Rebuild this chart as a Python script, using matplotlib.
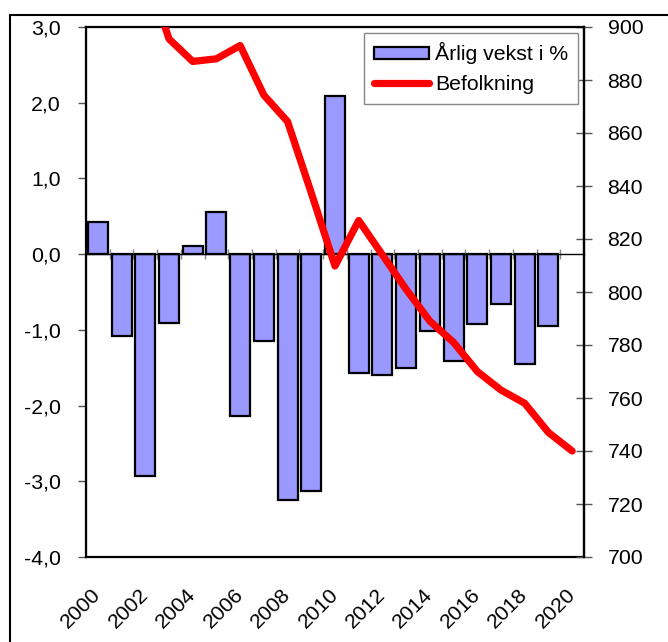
import matplotlib
matplotlib.use("Agg")
import matplotlib.pyplot as plt
from matplotlib.patches import Rectangle, Patch
from matplotlib.lines import Line2D
from matplotlib.ticker import FuncFormatter
import numpy as np

plt.rcParams["font.family"] = ["Liberation Sans", "DejaVu Sans"]

# ── data ─────────────────────────────────────────────────────────────────────
years = list(range(2000, 2021))
growth_years = list(range(2000, 2020))
growth_pct = [0.43, -1.08, -2.93, -0.91, 0.11, 0.56, -2.14, -1.15, -3.25, -3.13,
              2.09, -1.57, -1.60, -1.50, -1.02, -1.41, -0.92, -0.66, -1.45, -0.95]
population = [928.6, 932.6, 922.5, 895.5, 887.0, 888.0, 893.0, 874.3, 864.3, 837.4,
              809.8, 827.0, 814.0, 801.0, 789.0, 781.0, 770.0, 763.0, 758.0, 747.0, 740.0]
label_years = [str(y) for y in years[::2]]

bar_color = "#9999FF"
line_color = "#FF0000"
fs = 15.3

# ── figure ───────────────────────────────────────────────────────────────────
fig = plt.figure(figsize=(6.68, 6.42), dpi=100)
fig.patches.append(Rectangle((10 / 668, -0.1), 1.2, 0.1 + (1 - 15 / 642),
                             transform=fig.transFigure, fill=False,
                             edgecolor="black", lw=1.5, zorder=0))

ax = fig.add_axes([86 / 668, 1 - 557 / 642, 498 / 668, 530 / 642])
x_bar = np.arange(len(growth_years))
x_line = np.arange(len(years))

ax.bar(x_bar, growth_pct, width=0.84, color=bar_color, edgecolor="black",
       linewidth=1.6, zorder=2)
ax.set_xlim(-0.5, len(years) - 0.5)
ax.set_ylim(-4, 3)
ax.set_yticks(np.arange(-4, 3.1, 1))
ax.yaxis.set_major_formatter(FuncFormatter(lambda v, _: f"{v:.1f}".replace(".", ",")))
ax.tick_params(axis="y", direction="out", length=6, width=1, color="#555555",
               labelsize=fs, pad=12)

# zero line carries the category boundary ticks
ax.spines["bottom"].set_position(("data", 0))
ax.spines["bottom"].set_linewidth(1.0)
ax.set_xticks([])
ax.set_xticks(np.arange(0.5, len(years) - 1, 1), minor=True)
ax.tick_params(axis="x", which="minor", direction="inout", length=7, width=1,
               color="#888888")
for s in ["left", "top", "right"]:
    ax.spines[s].set_linewidth(1.6)

# frame bottom with year labels
sec = ax.secondary_xaxis("bottom")
sec.spines["bottom"].set_linewidth(1.6)
sec.set_xticks(x_line[::2])
sec.set_xticklabels(label_years, rotation=45, ha="right", va="center",
                    rotation_mode="anchor", fontsize=fs)
sec.tick_params(axis="x", length=0, pad=25)

ax2 = ax.twinx()
ax2.plot(x_line, population, color=line_color, lw=5.2, solid_capstyle="round",
         solid_joinstyle="round", zorder=3)
ax2.set_ylim(700, 900)
ax2.set_yticks(np.arange(700, 901, 20))
ax2.tick_params(axis="y", direction="inout", length=12, width=1, color="#555555",
                labelsize=fs, pad=11)
ax2.spines["right"].set_linewidth(1.6)
ax2.spines["bottom"].set_visible(False)

handles = [Patch(facecolor=bar_color, edgecolor="black", linewidth=1.6),
           Line2D([], [], color=line_color, lw=5.2, solid_capstyle="round")]
leg = ax2.legend(handles, ["Årlig vekst i %", "Befolkning"], loc="upper right",
                 bbox_to_anchor=(0.988, 0.989), borderaxespad=0, fontsize=fs,
                 fancybox=False, framealpha=1, edgecolor="#888888",
                 handlelength=2.6, handleheight=0.5, handletextpad=0.3,
                 borderpad=0.45, labelspacing=0.5)
leg.get_frame().set_linewidth(1.0)

fig.savefig("out.png", dpi=100)
